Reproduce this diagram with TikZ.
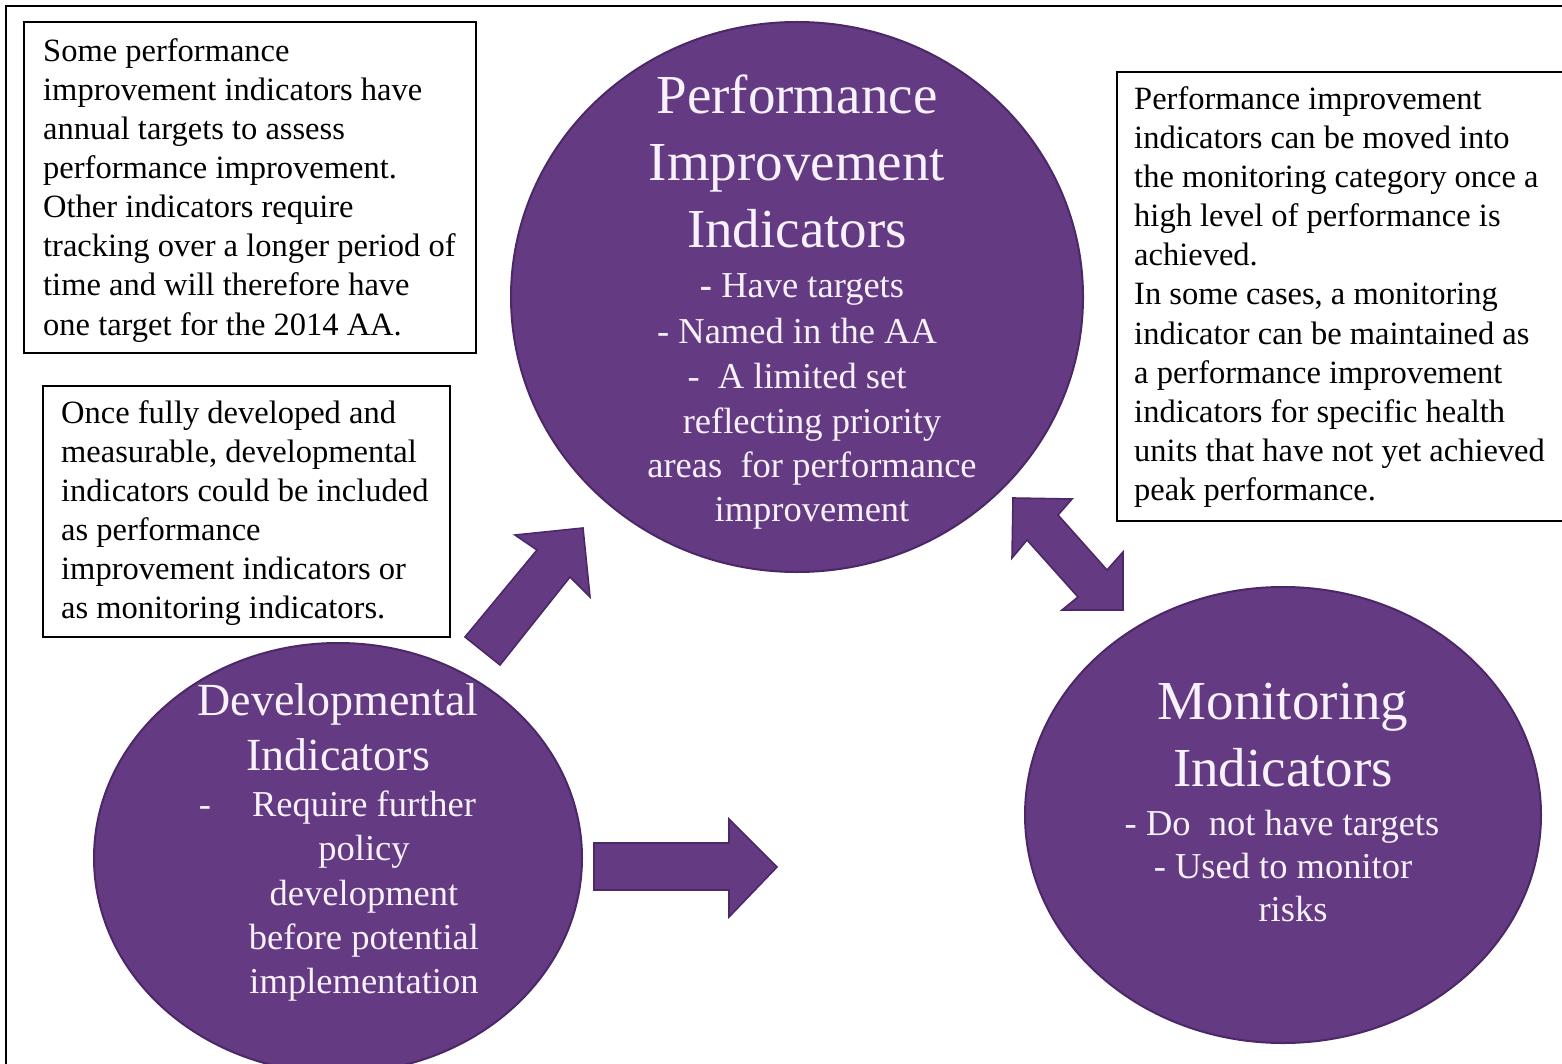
\documentclass[tikz,border=0pt]{standalone}
\usepackage{fontspec}
\setmainfont{LiberationSerif}[Extension=.ttf, UprightFont=*-Regular, BoldFont=*-Bold, ItalicFont=*-Italic, BoldItalicFont=*-BoldItalic]
\usetikzlibrary{shapes.geometric}
\definecolor{purp}{RGB}{100,58,131}
\definecolor{purpd}{RGB}{76,40,104}
\definecolor{ctext}{RGB}{246,241,250}
\begin{document}
\begin{tikzpicture}[x=1pt,y=-1pt,
  bt/.style={font=\fontsize{32.5}{39}\selectfont, anchor=base west, inner sep=0pt, text=black},
  ct/.style={font=\fontsize{55}{67}\selectfont, anchor=base, inner sep=0pt, text=ctext},
  dt/.style={font=\fontsize{46}{55}\selectfont, anchor=base, inner sep=0pt, text=ctext},
  cs/.style={font=\fontsize{36.5}{44.5}\selectfont, anchor=base, inner sep=0pt, text=ctext},
  circ/.style={ellipse, fill=purp, draw=purpd, line width=2pt, inner sep=0pt, outer sep=0pt},
  infobox/.style={draw=black, line width=2pt, fill=white, anchor=north west, inner sep=0pt, outer sep=0pt},
  barrow/.style={fill=purp, draw=purpd, line width=1.6pt, line join=miter}]
\useasboundingbox (0,0) rectangle (1562,1064);
\clip (0,0) rectangle (1562,1064);
\fill[white] (0,0) rectangle (1562,1064);
% outer frame
\draw[line width=2pt] (1580,6) -- (6,6) -- (6,1080);

% circles
\node[circ, minimum width=572pt, minimum height=550pt] (pi) at (797,297) {};
\node[circ, minimum width=488pt, minimum height=430pt] (dev) at (338,858) {};
\node[circ, minimum width=516pt, minimum height=456pt] (mon) at (1283,815) {};

% block arrows
\draw[barrow] (465,637) -- (537,550) -- (515,535) -- (583,528) -- (590,597) -- (570,577) -- (500,665) -- cycle;
\draw[barrow] (594,843) -- (729,843) -- (729,819) -- (777,867) -- (729,917) -- (729,890) -- (594,890) -- cycle;
\draw[barrow] (1013,498) -- (1072,499) -- (1058,515) -- (1107,570) -- (1123,552) -- (1123,610) -- (1062,610) -- (1078,597) -- (1027,540) -- (1012,558) -- cycle;

% text boxes
\node[infobox, minimum width=452pt, minimum height=331pt] (box1) at (24,22) {};
\node[infobox, minimum width=407pt, minimum height=251pt] (box2) at (43,386) {};
\node[infobox, minimum width=460pt, minimum height=449pt] (box3) at (1117,72) {};

% box 1 text
\node[bt] (b1l1) at (43,62) {Some performance};
\node[bt] (b1l2) at (43,101) {improvement indicators have};
\node[bt] (b1l3) at (43,140) {annual targets to assess};
\node[bt] (b1l4) at (43,179) {performance improvement.};
\node[bt] (b1l5) at (43,218) {Other indicators require};
\node[bt] (b1l6) at (43,257) {tracking over a longer period of};
\node[bt] (b1l7) at (43,296) {time and will therefore have};
\node[bt] (b1l8) at (43,335) {one target for the 2014 AA.};

% box 2 text
\node[bt] (b2l1) at (61,423) {Once fully developed and};
\node[bt] (b2l2) at (61,462) {measurable, developmental};
\node[bt] (b2l3) at (61,501) {indicators could be included};
\node[bt] (b2l4) at (61,540) {as performance};
\node[bt] (b2l5) at (61,579) {improvement indicators or};
\node[bt] (b2l6) at (61,618) {as monitoring indicators.};

% box 3 text
\node[bt] (b3l1) at (1134,110) {Performance improvement};
\node[bt] (b3l2) at (1134,149) {indicators can be moved into};
\node[bt] (b3l3) at (1134,188) {the monitoring category once a};
\node[bt] (b3l4) at (1134,227) {high level of performance is};
\node[bt] (b3l5) at (1134,266) {achieved.};
\node[bt] (b3l6) at (1134,305) {In some cases, a monitoring};
\node[bt] (b3l7) at (1134,344) {indicator can be maintained as};
\node[bt] (b3l8) at (1134,383) {a performance improvement};
\node[bt] (b3l9) at (1134,422) {indicators for specific health};
\node[bt] (b3l10) at (1134,461) {units that have not yet achieved};
\node[bt] (b3l11) at (1134,500) {peak performance.};

% PI circle text
\node[ct] (pit1) at (797,114) {Performance};
\node[ct] (pit2) at (797,181) {Improvement};
\node[ct] (pit3) at (797,248) {Indicators};
\node[cs] (pis1) at (802,298) {\textbf{-} Have targets};
\node[cs] (pis2) at (797,343) {- Named in the AA};
\node[cs] (pis3) at (797,388) {-\ \ A limited set};
\node[cs] (pis4) at (812,433) {reflecting priority};
\node[cs] (pis5) at (812,477) {areas\ \ for performance};
\node[cs] (pis6) at (812,521) {improvement};

% Developmental circle text
\node[dt] (dvt1) at (338,715) {Developmental};
\node[dt] (dvt2) at (338,770) {Indicators};
\node[cs] (dvdash) at (205,816) {-};
\node[cs] (dvs1) at (364,816) {Require further};
\node[cs] (dvs2) at (364,860) {policy};
\node[cs] (dvs3) at (364,905) {development};
\node[cs] (dvs4) at (364,949) {before potential};
\node[cs] (dvs5) at (364,993) {implementation};

% Monitoring circle text
\node[ct] (mot1) at (1283,719) {Monitoring};
\node[ct] (mot2) at (1283,786) {Indicators};
\node[cs] (mos1) at (1282,835) {- Do\ \ not have targets};
\node[cs] (mos2) at (1283,878) {- Used to monitor};
\node[cs] (mos3) at (1293,921) {risks};
\end{tikzpicture}
\end{document}
